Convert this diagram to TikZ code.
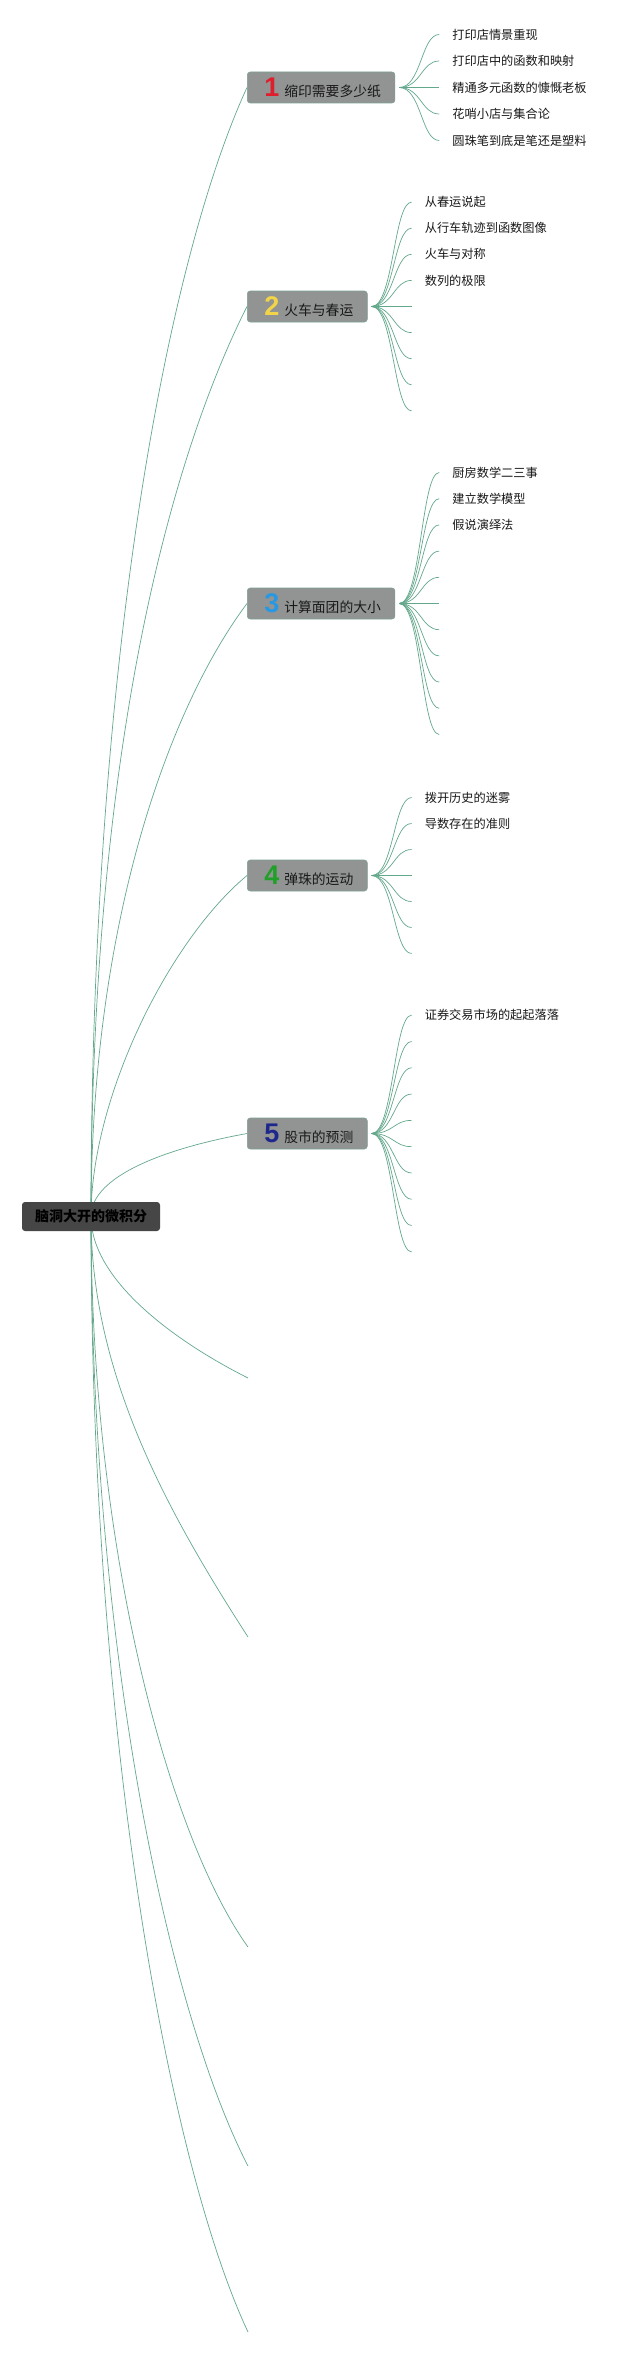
\documentclass[tikz,border=0pt]{standalone}
\usepackage{fontspec}
\setmainfont{Liberation Sans}
\newfontfamily\cjk{Noto Sans CJK SC}
\newfontfamily\numfont{Liberation Sans}
\usetikzlibrary{calc}
\definecolor{linkc}{RGB}{100,168,140}
\definecolor{boxfill}{RGB}{146,148,147}
\definecolor{boxline}{RGB}{125,160,145}
\definecolor{rootfill}{RGB}{70,70,70}
\definecolor{numred}{RGB}{222,30,45}
\definecolor{numyellow}{RGB}{242,212,72}
\definecolor{numblue}{RGB}{40,152,226}
\definecolor{numgreen}{RGB}{32,160,40}
\definecolor{numnavy}{RGB}{30,40,140}
\definecolor{txt}{RGB}{25,25,25}
\pgfdeclarelayer{bg}\pgfdeclarelayer{links}\pgfsetlayers{bg,links,main}
\newcommand\rlink[3]{\draw[link] let \p1=(root.center), \p2=(#1) in (\p1) .. controls (\x1,{\y1+#2*(\y2-\y1)}) and ({0.5*(\x1+\x2)},{\y2+#3*(\y1-\y2)}) .. (\p2);}
\newcommand\slink[2]{\draw[link] let \p1=(#1), \p2=(#2) in (\p1) .. controls ({\x1+22pt},\y1) and ({\x2-18pt},\y2) .. (\p2);}
\newcommand\bnum[2]{{\numfont\bfseries\fontsize{27}{27}\selectfont\color{#1}#2}}
\tikzset{
 rootbox/.style={fill=rootfill, rounded corners=3pt, minimum width=138pt, minimum height=29pt, inner sep=0pt, font=\cjk\bfseries\fontsize{14}{14}\selectfont, text=black},
 branchbox/.style={fill=boxfill, draw=boxline, line width=0.6pt, rounded corners=3pt, minimum height=31pt, inner xsep=14pt, inner ysep=0pt, anchor=west, font=\cjk\fontsize{13.8}{14}\selectfont, text=txt},
 leaf/.style={anchor=west, inner xsep=13pt, inner ysep=0pt, font=\cjk\fontsize{12.2}{12}\selectfont, text=txt},
 link/.style={draw=linkc, line width=0.7pt},
}
\begin{document}
\begin{tikzpicture}[x=1pt,y=1pt]
\useasboundingbox (0,0) rectangle (640,-2355);
\begin{pgfonlayer}{bg}
\fill[white] (0,0) rectangle (640,-2355);
\end{pgfonlayer}
% root and main branches
\node[rootbox] (root) at (91,-1216.5) {脑洞大开的微积分};
\node[branchbox] (b1) at (247,-87.5) {\hspace{3pt}\bnum{numred}{1}\hspace{5pt}缩印需要多少纸};
\node[branchbox] (b2) at (247,-306.5) {\hspace{3pt}\bnum{numyellow}{2}\hspace{5pt}火车与春运};
\node[branchbox] (b3) at (247,-603.5) {\hspace{3pt}\bnum{numblue}{3}\hspace{5pt}计算面团的大小};
\node[branchbox] (b4) at (247,-875.5) {\hspace{3pt}\bnum{numgreen}{4}\hspace{5pt}弹珠的运动};
\node[branchbox] (b5) at (247,-1133.5) {\hspace{3pt}\bnum{numnavy}{5}\hspace{5pt}股市的预测};
% empty branch ends
\coordinate (e1) at (248,-1378);
\coordinate (e2) at (248,-1637);
\coordinate (e3) at (248,-1947);
\coordinate (e4) at (248,-2166);
\coordinate (e5) at (248,-2332);
% fan origins
\foreach \b in {1,...,5}{\coordinate (o\b) at ([xshift=4pt]b\b.east);}
% child end points
\foreach \i in {1,...,5}{\coordinate (c1-\i) at ($(b1.east)+(44,{(3-\i)*26.5})$);}
\foreach \i in {1,...,9}{\coordinate (c2-\i) at ($(b2.east)+(44,{(5-\i)*26.1})$);}
\foreach \i in {1,...,11}{\coordinate (c3-\i) at ($(b3.east)+(44,{(6-\i)*26.2})$);}
\foreach \i in {1,...,7}{\coordinate (c4-\i) at ($(b4.east)+(44,{(4-\i)*26})$);}
\foreach \i in {1,...,10}{\coordinate (c5-\i) at ($(b5.east)+(44,{(5.5-\i)*26.3})$);}
% leaf texts
\foreach \i/\t in {1/打印店情景重现,2/打印店中的函数和映射,3/精通多元函数的慷慨老板,4/花哨小店与集合论,5/圆珠笔到底是笔还是塑料}{\node[leaf] (t1-\i) at (c1-\i) {\t};}
\foreach \i/\t in {1/从春运说起,2/从行车轨迹到函数图像,3/火车与对称,4/数列的极限}{\node[leaf] (t2-\i) at (c2-\i) {\t};}
\foreach \i/\t in {1/厨房数学二三事,2/建立数学模型,3/假说演绎法}{\node[leaf] (t3-\i) at (c3-\i) {\t};}
\foreach \i/\t in {1/拨开历史的迷雾,2/导数存在的准则}{\node[leaf] (t4-\i) at (c4-\i) {\t};}
\node[leaf] (t5-1) at (c5-1) {证券交易市场的起起落落};
% links
\begin{pgfonlayer}{links}
\rlink{b1.west}{0.5}{0.15}
\rlink{b2.west}{0.51}{0.17}
\rlink{b3.west}{0.48}{0.17}
\rlink{b4.west}{0.35}{0.19}
\rlink{b5.west}{0.5}{0.17}
\rlink{e1}{0.38}{0.245}
\rlink{e2}{0.38}{0.29}
\rlink{e3}{0.46}{0.15}
\rlink{e4}{0.46}{0.16}
\rlink{e5}{0.47}{0.15}
\foreach \i in {1,...,5}{\slink{o1}{c1-\i}}
\foreach \i in {1,...,9}{\slink{o2}{c2-\i}}
\foreach \i in {1,...,11}{\slink{o3}{c3-\i}}
\foreach \i in {1,...,7}{\slink{o4}{c4-\i}}
\foreach \i in {1,...,10}{\slink{o5}{c5-\i}}
\end{pgfonlayer}
\end{tikzpicture}
\end{document}
